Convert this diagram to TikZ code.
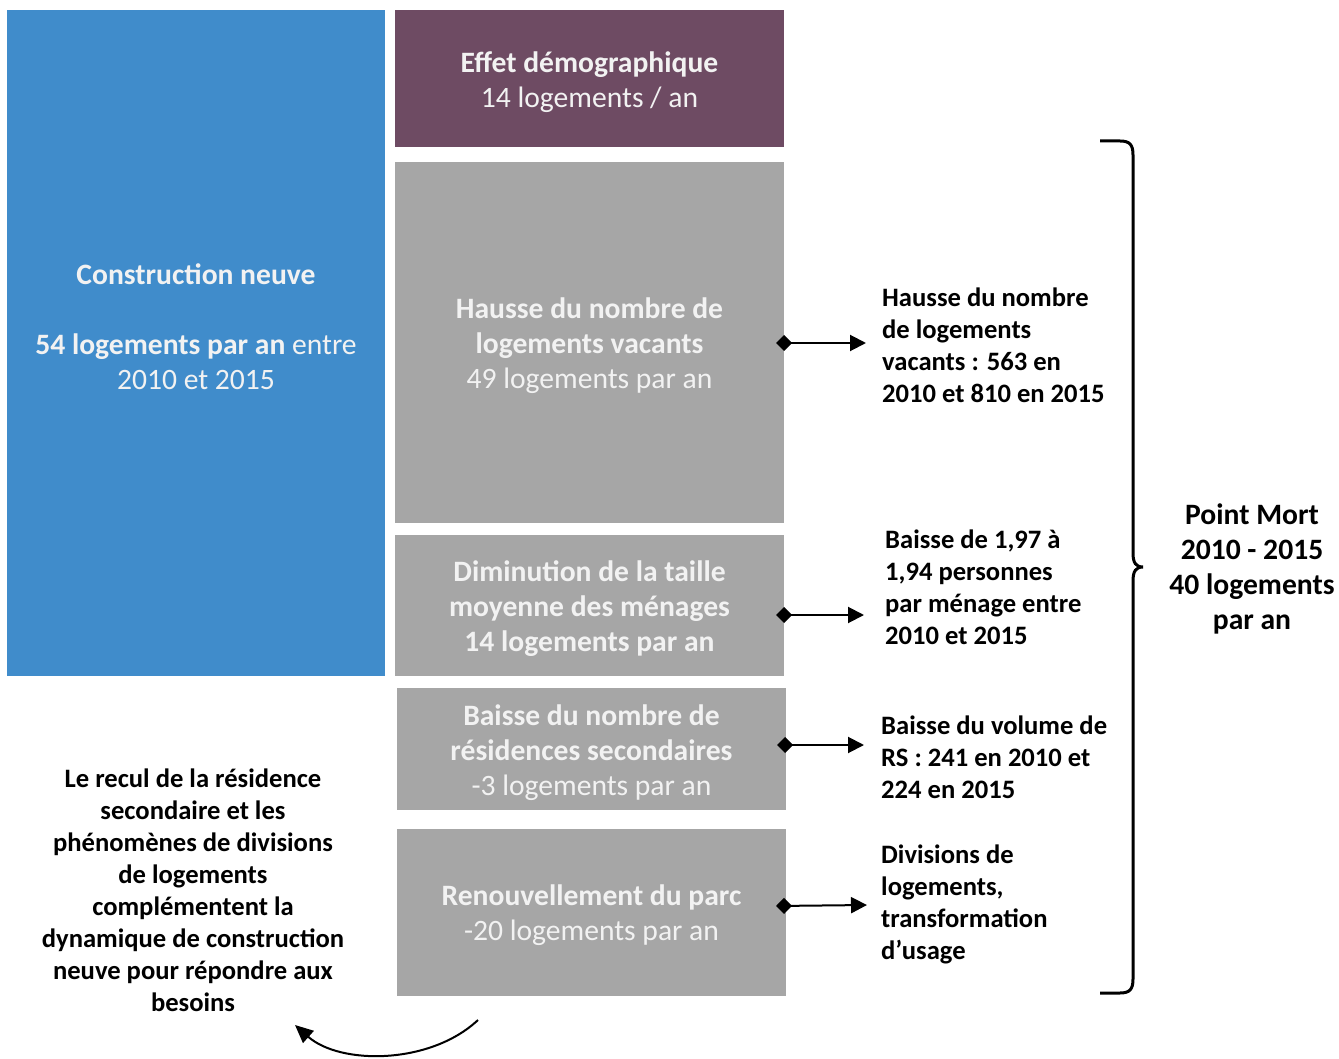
\documentclass[tikz,border=0pt]{standalone}
\usepackage{fontspec}
\setmainfont{Carlito}
\usetikzlibrary{arrows.meta}
\definecolor{cblue}{RGB}{64,140,203}
\definecolor{cpurple}{RGB}{110,75,99}
\definecolor{cgray}{RGB}{166,166,166}
\definecolor{ctext}{RGB}{242,242,242}
\tikzset{
  boxtxt/.style={text=ctext,align=center,font=\fontsize{29.6}{35}\selectfont,inner sep=0pt},
  sidetxt/.style={text=black,align=left,anchor=west,font=\bfseries\fontsize{26.6}{32}\selectfont,inner sep=0pt},
  link/.style={line width=2pt,{Diamond[length=16pt,width=16pt]}-{Triangle[length=16pt,width=16pt]}},
}
\begin{document}
\begin{tikzpicture}[x=1pt,y=-1pt]
\useasboundingbox (0,0) rectangle (1339,1059);
% boxes
\fill[cblue] (7,10) rectangle (385,676);
\node[boxtxt] (blue) at (196,326.5) {\textbf{Construction neuve}\\[35pt]\textbf{54 logements par an} entre\\2010 et 2015};
\fill[cpurple] (395,10) rectangle (784,147);
\node[boxtxt] (demo) at (589.5,82) {\textbf{Effet démographique}\\14 logements / an};
\fill[cgray] (395,162) rectangle (784,523);
\node[boxtxt] (vac) at (589.5,345.5) {\textbf{Hausse du nombre de}\\\textbf{logements vacants}\\49 logements par an};
\fill[cgray] (395,535) rectangle (784,676);
\node[boxtxt] (men) at (589.5,608.5) {\textbf{Diminution de la taille}\\\textbf{moyenne des ménages}\\\textbf{14 logements par an}};
\fill[cgray] (397,688) rectangle (786,810);
\node[boxtxt] (rs) at (591.5,753) {\textbf{Baisse du nombre de}\\\textbf{résidences secondaires}\\-3 logements par an};
\fill[cgray] (397,829) rectangle (786,996);
\node[boxtxt] (ren) at (591.5,915.5) {\textbf{Renouvellement du parc}\\-20 logements par an};
% side texts
\node[sidetxt] (t1) at (882,345) {Hausse du nombre\\de logements\\vacants : 563 en\\2010 et 810 en 2015};
\node[sidetxt] (t2) at (885,587) {Baisse de 1,97 à\\1,94 personnes\\par ménage entre\\2010 et 2015};
\node[sidetxt] (t3) at (881,757) {Baisse du volume de\\RS : 241 en 2010 et\\224 en 2015};
\node[sidetxt] (t4) at (881,904) {Divisions de\\logements,\\transformation\\d’usage};
% arrows
\coordinate (s1) at (776,343); \coordinate (e1) at (866,343);
\coordinate (s2) at (776,615); \coordinate (e2) at (864,615);
\coordinate (s3) at (777,745); \coordinate (e3) at (864,745);
\coordinate (s4) at (776,906); \coordinate (e4) at (867,905);
\draw[link] (s1) -- (e1);
\draw[link] (s2) -- (e2);
\draw[link] (s3) -- (e3);
\draw[link] (s4) -- (e4);
% brace
\draw[line width=3pt] (1100,141) -- (1120,141) .. controls (1130,141) and (1133,145) .. (1133,155)
  -- (1133,553) .. controls (1133,563) and (1136,567) .. (1143,567)
  .. controls (1136,567) and (1133,571) .. (1133,581)
  -- (1133,979) .. controls (1133,989) and (1130,993) .. (1120,993) -- (1100,993);
\node[align=center,font=\bfseries\fontsize{29.6}{35}\selectfont,inner sep=0pt] (pm) at (1252,568.5) {Point Mort\\2010 - 2015\\40 logements\\par an};
% left text
\node[align=center,font=\bfseries\fontsize{26.6}{32}\selectfont,inner sep=0pt] (recul) at (193,890) {Le recul de la résidence\\secondaire et les\\phénomènes de divisions\\de logements\\complémentent la\\dynamique de construction\\neuve pour répondre aux\\besoins};
% curved arrow
\coordinate (c1) at (478,1020);
\coordinate (c2) at (295,1025);
\draw[line width=2pt,-{Triangle[length=18pt,width=16pt]}] (c1) .. controls (430,1065) and (340,1065) .. (c2);
\end{tikzpicture}
\end{document}
